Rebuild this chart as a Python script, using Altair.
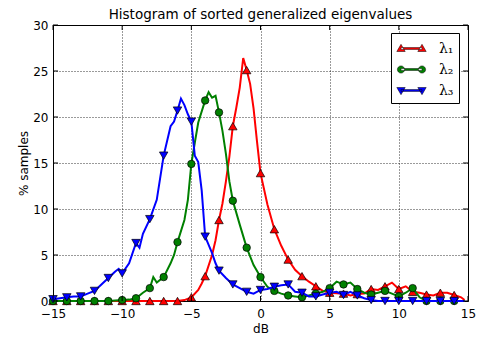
import altair as alt
import pandas as pd

# ---- data ----
lam1_x = [-15, -14, -13, -12, -11, -10, -9, -8, -7, -6, -5.5, -5, -4.5, -4.25, -4,
          -3.5, -3.25, -3, -2.75, -2.5, -2.25, -2, -1.75, -1.5, -1.25, -1, -0.75, -0.5, -0.25, 0,
          0.5, 1, 1.5, 2, 2.5, 3, 3.5, 4, 4.5, 5, 5.5, 6, 6.5, 7, 7.5, 8, 8.5, 9, 9.5, 10,
          10.5, 11, 11.5, 12, 12.5, 13, 13.5, 14, 14.5, 14.75]
lam1_y = [0, 0, 0, 0, 0, 0, 0, 0, 0, 0, 0.1, 0.4, 1.2, 1.9, 2.7,
          5.0, 6.6, 8.8, 10.6, 13.0, 15.7, 19.0, 21.0, 23.2, 26.4, 25.1, 23.6, 20.9, 17.3, 13.9,
          10.5, 7.8, 6.0, 4.5, 3.4, 2.7, 2.1, 1.6, 1.1, 0.9, 0.85, 0.8, 0.6, 0.75, 0.8, 1.3, 1.2, 1.6, 2.0, 1.3,
          1.6, 1.0, 0.9, 0.7, 0.6, 0.9, 0.9, 0.65, 0.4, 0.1]

lam2_x = [-15, -14, -13, -12, -11, -10.5, -10, -9.5, -9, -8.5, -8, -7.75, -7.5, -7, -6.5, -6.25, -6,
          -5.5, -5.25, -5, -4.75, -4.5, -4, -3.75, -3.5, -3.25, -3, -2.75, -2.5, -2.25, -2, -1.5, -1,
          -0.5, 0, 0.5, 1, 1.5, 2, 2.5, 3, 3.5, 4, 4.5, 5, 5.5, 6, 6.5, 7, 7.5, 8, 8.5, 9, 9.5, 10,
          10.5, 11, 11.5, 12, 13, 14, 14.75]
lam2_y = [0, 0, 0, 0, 0, 0.05, 0.1, 0.15, 0.3, 0.9, 1.4, 2.6, 2.0, 2.6, 4.1, 5.0, 6.4,
          8.8, 11.0, 14.9, 17.2, 19.4, 21.8, 22.7, 22.1, 22.3, 20.5, 18.5, 16.0, 13.0, 10.9, 8.3, 5.8,
          3.9, 2.6, 1.55, 1.1, 0.8, 0.6, 0.5, 0.4, 0.6, 0.8, 1.0, 1.4, 2.1, 1.8, 2.0, 1.3, 0.9, 0.7, 0.9, 1.1, 0.8, 0.5,
          0.9, 1.4, 0.4, 0, 0, 0, 0]

lam3_x = [-15, -14.5, -14, -13.5, -13, -12.5, -12, -11.5, -11, -10.5, -10.25, -10, -9.5, -9.25, -9,
          -8.75, -8.5, -8, -7.5, -7, -6.5, -6.25, -6, -5.75, -5.5, -5.25, -5, -4.75, -4.5, -4.25, -4,
          -3.5, -3.25, -3, -2.5, -2, -1.5, -1, -0.5, 0, 0.5, 1, 1.5, 2, 2.5, 3, 3.5, 4, 4.5, 5, 5.5,
          6, 6.5, 7, 7.5, 8, 8.5, 9, 10, 11, 12, 13, 14, 14.75]
lam3_y = [0.2, 0.3, 0.4, 0.5, 0.5, 0.8, 1.1, 1.8, 2.5, 3.2, 3.5, 3.0, 4.1, 5.2, 6.3,
          5.8, 7.3, 8.9, 11.0, 15.8, 19.0, 19.5, 20.7, 22.0, 21.3, 20.3, 19.5, 15.8, 15.1, 12.0, 7.0,
          5.2, 4.1, 3.3, 2.5, 1.8, 1.4, 1.0, 0.8, 1.2, 1.3, 1.55, 1.7, 1.8, 1.0, 0.9, 0.5, 0.5, 0.7, 0.9, 1.0,
          0.65, 1.0, 0.6, 0.3, 0.1, 0.0, 0, 0, 0, 0, 0, 0, 0]

series_names = ["λ₁", "λ₂", "λ₃"]
series_colors = ["#ff0000", "#008000", "#0000ff"]
series_shapes = ["triangle-up", "circle", "triangle-down"]

x_ticks = [-15, -10, -5, 0, 5, 10, 15]
y_ticks = [0, 5, 10, 15, 20, 25, 30]

W, H = 415, 276

# legend glyphs: line with a marker at each end (unit path, scaled by symbol size)
def tri_up(cx):
    return f"M{cx},-0.42L{cx-0.42},0.3L{cx+0.42},0.3Z"

def tri_down(cx):
    return f"M{cx},0.42L{cx-0.42},-0.3L{cx+0.42},-0.3Z"

def circ(cx, r=0.36):
    return f"M{cx-r},0A{r},{r} 0 1,0 {cx+r},0A{r},{r} 0 1,0 {cx-r},0Z"

bar = "M-1.05,-0.09L1.05,-0.09L1.05,0.09L-1.05,0.09Z"
legend_paths = [bar + tri_up(-1.05) + tri_up(1.05),
                bar + circ(-1.05) + circ(1.05),
                bar + tri_down(-1.05) + tri_down(1.05)]

xs = alt.Scale(domain=[-15, 15], nice=False, zero=False)
ys = alt.Scale(domain=[0, 30], nice=False)

x_axis = alt.Axis(values=x_ticks, format="d", title="dB", tickSize=0, labelPadding=7,
                  labelFlush=False, grid=True, domain=False, titlePadding=4)
y_axis = alt.Axis(values=y_ticks, format="d", title="% samples", tickSize=0, labelPadding=5,
                  labelFlush=False, grid=True, domain=False, titlePadding=2)

layers = []
data_sets = [(lam1_x, lam1_y), (lam2_x, lam2_y), (lam3_x, lam3_y)]
for i, (xv, yv) in enumerate(data_sets):
    df = pd.DataFrame({"x": xv, "y": yv})
    base = alt.Chart(df)
    if i == 0:
        enc_x = alt.X("x:Q", scale=xs, axis=x_axis)
        enc_y = alt.Y("y:Q", scale=ys, axis=y_axis)
    else:
        enc_x = alt.X("x:Q", scale=xs)
        enc_y = alt.Y("y:Q", scale=ys)
    line = base.mark_line(color=series_colors[i], strokeWidth=2).encode(x=enc_x, y=enc_y)
    size = 56 if series_shapes[i] == "circle" else 72
    pts = base.transform_filter(
        "datum.x == floor(datum.x) && datum.x <= 14"
    ).mark_point(shape=series_shapes[i], filled=True, fill=series_colors[i], stroke="black",
                 strokeWidth=0.7, size=size, opacity=1).encode(x="x:Q", y="y:Q")
    layers += [line, pts]

# legend-only layer (draws nothing)
leg_df = pd.DataFrame({"series": series_names, "x": [0, 0, 0], "y": [0, 0, 0]})
legend_def = alt.Legend(title=None, orient="none", legendX=338, legendY=8,
                        padding=5, rowPadding=3, symbolOffset=5, labelOffset=17,
                        strokeColor="black", fillColor="white", cornerRadius=0,
                        labelFont="DejaVu Serif", labelFontSize=14, labelColor="black",
                        symbolSize=400, symbolStrokeWidth=0.5, symbolOpacity=1)
legend_layer = alt.Chart(leg_df).transform_filter("false").mark_point(
    filled=True, strokeWidth=0.5, size=400, opacity=1
).encode(
    x="x:Q", y="y:Q",
    fill=alt.Fill("series:N", scale=alt.Scale(domain=series_names, range=series_colors),
                  legend=legend_def),
    shape=alt.Shape("series:N", scale=alt.Scale(domain=series_names, range=legend_paths),
                    legend=legend_def),
    stroke=alt.value("black"),
)

# inward ticks on all four sides
xt_df = pd.DataFrame({"v": x_ticks})
yt_df = pd.DataFrame({"v": y_ticks})
tick_bottom = alt.Chart(xt_df).mark_rule(color="black", strokeWidth=1).encode(
    x="v:Q", y=alt.value(H), y2=alt.value(H - 5))
tick_top = alt.Chart(xt_df).mark_rule(color="black", strokeWidth=1).encode(
    x="v:Q", y=alt.value(0), y2=alt.value(5))
tick_left = alt.Chart(yt_df).mark_rule(color="black", strokeWidth=1).encode(
    y="v:Q", x=alt.value(0), x2=alt.value(5))
tick_right = alt.Chart(yt_df).mark_rule(color="black", strokeWidth=1).encode(
    y="v:Q", x=alt.value(W), x2=alt.value(W - 5))

chart = alt.layer(
    *layers, legend_layer, tick_bottom, tick_top, tick_left, tick_right
).properties(
    width=W, height=H,
    title=alt.Title("Histogram of sorted generalized eigenvalues", fontSize=13.5,
                    font="DejaVu Sans", fontWeight="normal", color="black",
                    frame="group", baseline="alphabetic", offset=6, dy=19),
    padding={"left": 53, "top": 25, "right": 16, "bottom": 38},
    autosize=alt.AutoSizeParams(type="none"),
).configure_view(
    stroke="black", strokeWidth=1
).configure_axis(
    labelFont="DejaVu Sans", labelFontSize=12, labelColor="black",
    titleFont="DejaVu Sans", titleFontSize=12, titleFontWeight="normal", titleColor="black",
    gridColor="black", gridDash=[1, 2], gridWidth=0.8, gridOpacity=1,
)

chart.save("out.html", embed_options={"renderer": "svg", "actions": False})
